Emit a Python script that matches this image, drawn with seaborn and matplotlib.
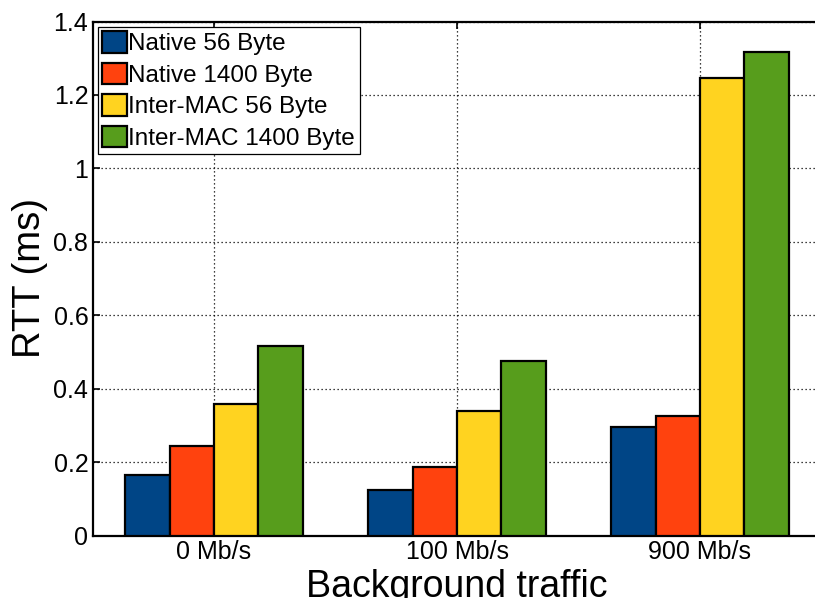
import matplotlib
matplotlib.use("Agg")
import matplotlib.pyplot as plt
from matplotlib.patches import Patch
from matplotlib.ticker import FuncFormatter, FixedLocator
import seaborn as sns
import pandas as pd

# Background traffic levels and measured round-trip times (ms)
traffic = ["0 Mb/s", "100 Mb/s", "900 Mb/s"]
series_names = ["Native 56 Byte", "Native 1400 Byte",
                "Inter-MAC 56 Byte", "Inter-MAC 1400 Byte"]
native_56 = [0.165, 0.123, 0.295]
native_1400 = [0.243, 0.186, 0.326]
intermac_56 = [0.357, 0.339, 1.247]
intermac_1400 = [0.517, 0.476, 1.317]
y_ticks = [0, 0.2, 0.4, 0.6, 0.8, 1.0, 1.2, 1.4]

colors = ["#004586", "#ff420e", "#ffd320", "#579d1c"]

rows = []
for name, vals in zip(series_names,
                      [native_56, native_1400, intermac_56, intermac_1400]):
    for t, v in zip(traffic, vals):
        rows.append({"traffic": t, "series": name, "rtt": v})
df = pd.DataFrame(rows)

sns.set_style("white")
plt.rcParams["font.family"] = ["Liberation Sans", "DejaVu Sans"]
plt.rcParams["text.color"] = "black"
plt.rcParams["axes.labelcolor"] = "black"
plt.rcParams["xtick.color"] = "black"
plt.rcParams["ytick.color"] = "black"

fig = plt.figure(figsize=(8.15, 5.98), dpi=100)
ax = fig.add_axes([92.5 / 815, 62.5 / 598, 729 / 815, 514 / 598])

sns.barplot(data=df, x="traffic", y="rtt", hue="series",
            hue_order=series_names, order=traffic, palette=colors,
            width=0.73, gap=0, edgecolor="black", linewidth=1.6,
            saturation=1, legend=False, ax=ax, zorder=3)

ax.set_xlim(-0.5, 2.5)
ax.set_ylim(0, 1.4)
ax.yaxis.set_major_locator(FixedLocator(y_ticks))
ax.yaxis.set_major_formatter(FuncFormatter(lambda v, p: f"{v:g}"))

ax.grid(True, which="major", axis="both", color="black",
        linestyle=(0, (1, 2.2)), linewidth=0.9, zorder=0)
ax.set_axisbelow(True)

for side in ["left", "bottom", "top", "right"]:
    ax.spines[side].set_visible(True)
    ax.spines[side].set_color("black")
    ax.spines[side].set_linewidth(1.6)

ax.tick_params(axis="both", which="major", direction="in", length=5,
               width=1.2, color="black", labelcolor="black", labelsize=18,
               pad=3, top=True, right=True, bottom=True, left=True)

ax.set_ylabel("RTT (ms)", fontsize=27.5, labelpad=4, color="black")
ax.set_xlabel("Background traffic", fontsize=27, labelpad=3.5,
              color="black")

handles = [Patch(facecolor=c, edgecolor="black", linewidth=1.6)
           for c in colors]
leg = ax.legend(handles, series_names, loc="upper left", fontsize=17.5,
                frameon=True, fancybox=False, framealpha=1,
                edgecolor="black", borderpad=0.18, handlelength=1.0,
                handleheight=1.0, handletextpad=0.08, labelspacing=0.3,
                borderaxespad=0.22)
leg.get_frame().set_linewidth(0.9)
for txt in leg.get_texts():
    txt.set_color("black")

fig.savefig("out.png", dpi=100)
